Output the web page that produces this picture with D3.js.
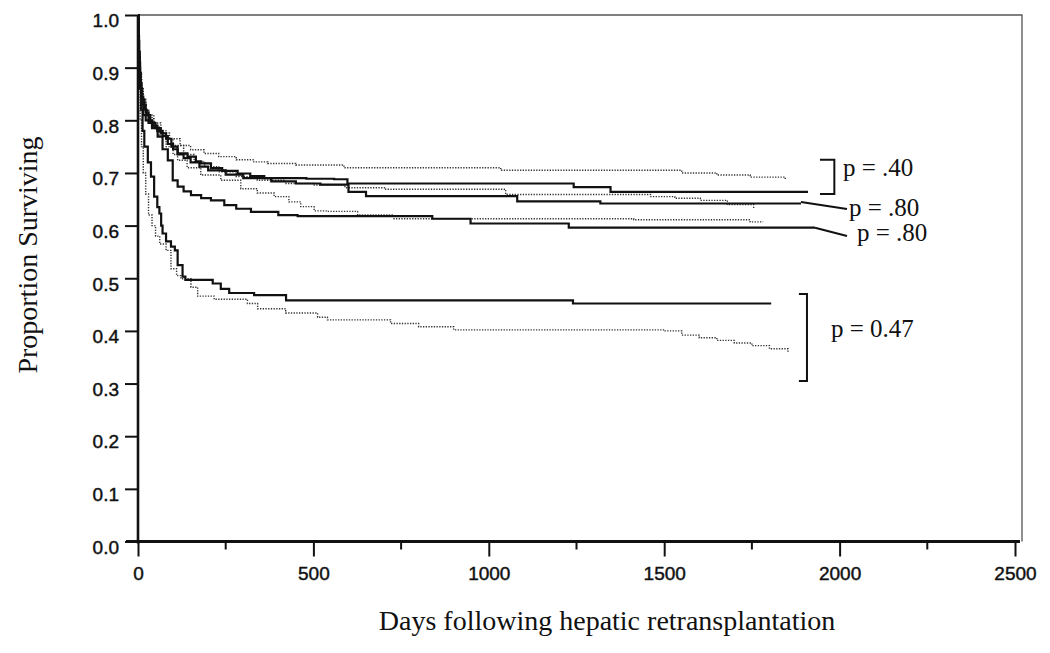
<!DOCTYPE html>
<html>
<head>
<meta charset="utf-8">
<script src="https://cdn.jsdelivr.net/npm/d3@7"></script>
<style>
  body { margin: 0; background: #fff; }
  svg { display: block; }
</style>
</head>
<body>
<div id="chart"></div>
<script>
// Kaplan-Meier curves as [day, proportion surviving]
var aSolid = [[0,1],[1,0.96],[3,0.92],[5,0.89],[8,0.86],[12,0.84],[18,0.82],[25,0.81],[35,0.795],[50,0.785],[65,0.775],[80,0.765],[95,0.75],[113,0.737],[141,0.731],[165,0.722],[179,0.718],[208,0.709],[240,0.704],[284,0.699],[320,0.694],[360,0.690],[480,0.689],[559,0.688],[597,0.680],[1242,0.673],[1347,0.664],[1910,0.664]];
var aDotted = [[0,1],[1,0.97],[3,0.93],[6,0.89],[10,0.86],[15,0.84],[22,0.82],[30,0.81],[45,0.795],[65,0.776],[90,0.765],[120,0.752],[150,0.744],[188,0.737],[230,0.731],[280,0.725],[330,0.721],[370,0.718],[450,0.715],[587,0.710],[1034,0.705],[1461,0.705],[1550,0.700],[1650,0.696],[1745,0.692],[1845,0.686]];
var bSolid = [[0,1],[1,0.95],[3,0.91],[6,0.87],[10,0.845],[15,0.83],[22,0.815],[30,0.80],[40,0.79],[55,0.78],[70,0.77],[85,0.755],[100,0.745],[113,0.735],[130,0.728],[150,0.72],[175,0.712],[200,0.705],[250,0.697],[300,0.690],[380,0.684],[450,0.680],[520,0.678],[600,0.664],[650,0.656],[1081,0.646],[1318,0.642],[1890,0.642]];
var bDotted = [[0,1],[1,0.96],[3,0.92],[6,0.88],[10,0.85],[15,0.835],[22,0.82],[30,0.805],[45,0.79],[60,0.78],[80,0.765],[100,0.752],[130,0.735],[160,0.722],[190,0.712],[230,0.702],[280,0.693],[340,0.686],[420,0.680],[500,0.677],[590,0.672],[706,0.669],[1048,0.659],[1461,0.655],[1530,0.652],[1603,0.648],[1680,0.640],[1755,0.632]];
var cSolid = [[0,1],[1,0.95],[3,0.9],[6,0.86],[10,0.83],[15,0.81],[22,0.80],[30,0.795],[40,0.785],[56,0.769],[70,0.745],[85,0.724],[99,0.686],[113,0.674],[130,0.665],[151,0.658],[180,0.652],[208,0.648],[246,0.639],[280,0.632],[322,0.626],[400,0.620],[455,0.618],[839,0.613],[948,0.604],[1228,0.596],[1930,0.596]];
var cDotted = [[0,1],[1,0.96],[3,0.92],[6,0.88],[10,0.85],[15,0.83],[22,0.81],[30,0.80],[45,0.785],[60,0.77],[80,0.75],[100,0.735],[113,0.724],[140,0.71],[179,0.696],[236,0.686],[293,0.670],[340,0.662],[388,0.655],[430,0.645],[464,0.636],[502,0.628],[540,0.627],[626,0.620],[730,0.613],[1413,0.611],[1745,0.607],[1782,0.607]];
var dSolid = [[0,1],[2,0.93],[5,0.87],[9,0.82],[13,0.78],[18,0.75],[28,0.72],[37,0.693],[46,0.655],[55,0.635],[61,0.623],[66,0.60],[70,0.585],[80,0.57],[94,0.56],[105,0.553],[113,0.525],[127,0.503],[135,0.497],[213,0.490],[236,0.480],[260,0.472],[331,0.468],[422,0.458],[1240,0.452],[1805,0.452]];
var dDotted = [[0,1],[1,0.92],[3,0.86],[6,0.80],[10,0.75],[15,0.70],[22,0.66],[30,0.62],[40,0.60],[50,0.58],[62,0.565],[80,0.553],[94,0.518],[110,0.505],[122,0.499],[151,0.483],[170,0.466],[217,0.460],[312,0.452],[341,0.442],[421,0.434],[512,0.426],[540,0.421],[720,0.414],[800,0.408],[900,0.402],[1500,0.400],[1550,0.392],[1600,0.387],[1650,0.382],[1700,0.377],[1750,0.372],[1800,0.366],[1853,0.360]];

var xTicks = [0, 500, 1000, 1500, 2000, 2500];
var xMinorTicks = [250, 750, 1250, 1750, 2250];
var yTicks = [0, 0.1, 0.2, 0.3, 0.4, 0.5, 0.6, 0.7, 0.8, 0.9, 1.0];

var width = 1050, height = 653;

var svg = d3.select("#chart").append("svg")
	.attr("width", width)
	.attr("height", height);

var x = d3.scaleLinear().domain([0, 2500]).range([138, 1015]);
var y = d3.scaleLinear().domain([0, 1]).range([541.5, 15]);

// frame (top and right)
svg.append("path")
	.attr("d", "M" + x(0) + "," + y(1) + "H1022V" + y(0))
	.attr("fill", "none")
	.attr("stroke", "#555")
	.attr("stroke-width", 1.3);

// curves
var line = d3.line()
	.x(d => x(d[0]))
	.y(d => y(d[1]))
	.curve(d3.curveStepAfter);

var curves = [
	{data: dDotted, dotted: true},
	{data: cDotted, dotted: true},
	{data: bDotted, dotted: true},
	{data: aDotted, dotted: true},
	{data: dSolid, dotted: false},
	{data: cSolid, dotted: false},
	{data: bSolid, dotted: false},
	{data: aSolid, dotted: false}
];

svg.selectAll("path.km")
	.data(curves)
	.enter()
	.append("path")
	.attr("class", "km")
	.attr("d", d => line(d.data))
	.attr("fill", "none")
	.attr("stroke", d => d.dotted ? "#333" : "#111")
	.attr("stroke-width", d => d.dotted ? 1.4 : 2.2)
	.attr("stroke-dasharray", d => d.dotted ? "1.3,1.4" : null);

// left axis
var yAxis = d3.axisLeft(y).tickValues(yTicks).tickSize(13).tickPadding(6).tickFormat(d3.format(".1f"));
var gy = svg.append("g").attr("transform", "translate(" + x(0) + ",0)").call(yAxis);
gy.select(".domain").attr("stroke-width", 2.6).attr("stroke", "#111").attr("d", "M0," + y(1) + "V" + (y(0) + 2));
gy.selectAll(".tick line").attr("stroke-width", 2).attr("stroke", "#111");
gy.selectAll(".tick text")
	.attr("font-family", "Liberation Sans, Arial, sans-serif")
	.attr("font-size", 19)
	.attr("fill", "#111")
	.attr("stroke", "#111")
	.attr("stroke-width", 0.45)
	.attr("dy", "0.62em");

// bottom axis
var xAxis = d3.axisBottom(x).tickValues(xTicks).tickSize(15).tickPadding(10).tickFormat(d3.format("d"));
var gx = svg.append("g").attr("transform", "translate(0," + y(0) + ")").call(xAxis);
gx.select(".domain").attr("stroke-width", 3.2).attr("stroke", "#111").attr("d", "M" + (x(0) - 12) + ",0H1020");
gx.selectAll(".tick line").attr("stroke-width", 2).attr("stroke", "#111");
gx.selectAll(".tick text")
	.attr("font-family", "Liberation Sans, Arial, sans-serif")
	.attr("font-size", 19)
	.attr("fill", "#111")
	.attr("stroke", "#111")
	.attr("stroke-width", 0.45);

gx.selectAll("line.minor")
	.data(xMinorTicks)
	.enter()
	.append("line")
	.attr("class", "minor")
	.attr("x1", d => x(d)).attr("x2", d => x(d))
	.attr("y1", 0).attr("y2", 8)
	.attr("stroke", "#111")
	.attr("stroke-width", 2);

// axis titles
svg.append("text")
	.attr("transform", "translate(37," + 255 + ") rotate(-90)")
	.attr("text-anchor", "middle")
	.attr("font-family", "Liberation Serif, Times New Roman, serif")
	.attr("font-size", 28)
	.attr("fill", "#111")
	.text("Proportion Surviving");

svg.append("text")
	.attr("x", 607)
	.attr("y", 630)
	.attr("text-anchor", "middle")
	.attr("font-family", "Liberation Serif, Times New Roman, serif")
	.attr("font-size", 28)
	.attr("fill", "#111")
	.text("Days following hepatic retransplantation");

// p-value annotations
var ann = svg.append("g")
	.attr("fill", "none")
	.attr("stroke", "#111")
	.attr("stroke-width", 2);

ann.append("path").attr("d", "M" + x(1944) + "," + y(0.725) + "H" + x(1985) + "V" + y(0.66) + "H" + x(1944));
ann.append("path").attr("d", "M" + x(bSolid[bSolid.length - 1][0]) + "," + y(0.645) + "L847,209");
ann.append("path").attr("d", "M" + x(cSolid[cSolid.length - 1][0]) + "," + y(0.596) + "L847,236");
ann.append("path").attr("d", "M" + x(1884) + "," + y(0.47) + "H" + x(1907) + "V" + y(0.305) + "H" + x(1884));

var labels = [
	{t: "p = .40", x: 843, y: 176},
	{t: "p = .80", x: 849, y: 216},
	{t: "p = .80", x: 857, y: 241},
	{t: "p = 0.47", x: 831, y: 337}
];

svg.selectAll("text.p")
	.data(labels)
	.enter()
	.append("text")
	.attr("class", "p")
	.attr("x", d => d.x)
	.attr("y", d => d.y)
	.attr("font-family", "Liberation Serif, Times New Roman, serif")
	.attr("font-size", 25)
	.attr("fill", "#111")
	.text(d => d.t);
</script>
</body>
</html>
